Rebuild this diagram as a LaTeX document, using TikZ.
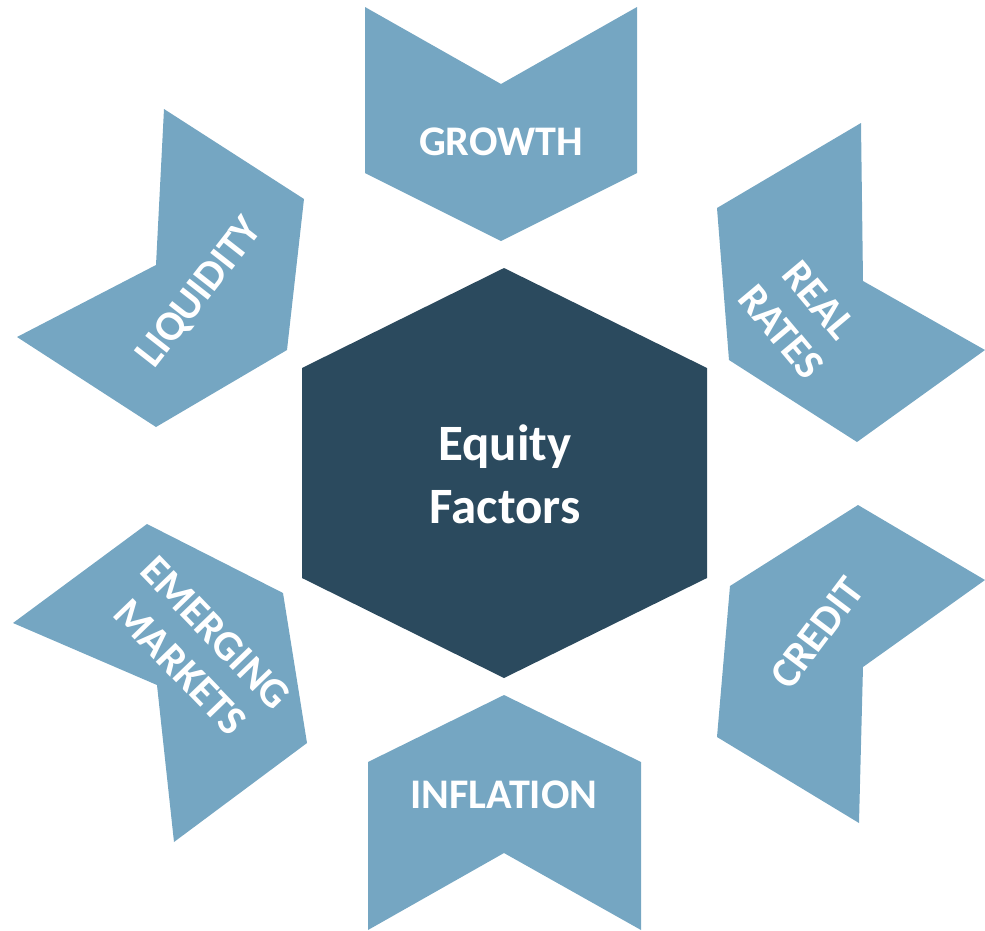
\documentclass[tikz,border=0pt]{standalone}
\usepackage{fontspec}
\setmainfont{Carlito}
\usepackage{tikz}
\definecolor{factorblue}{RGB}{117,166,194}
\definecolor{coreblue}{RGB}{43,74,94}

\begin{document}
\begin{tikzpicture}[x=0.2mm,y=-0.2mm,
  chev/.style={fill=factorblue},
  every node/.style={text=white,font=\bfseries\fontsize{24}{28}\selectfont,align=center}]
\useasboundingbox (0,0) rectangle (985,930);
\fill[coreblue] (504,268)--(707,368)--(707,578)--(504,678)--(302,578)--(302,368)--cycle;
\fill[chev] (365,7)--(501,84)--(637,7)--(637,173)--(501,241)--(365,173)--cycle;
\fill[chev] (717,208)--(861,123)--(863,281)--(985,350)--(857,442)--(729,360)--cycle;
\fill[chev] (730,586)--(858,505)--(985,580)--(863,667)--(859,823)--(717,737)--cycle;
\fill[chev] (368,762)--(504,695)--(641,762)--(641,930)--(504,853)--(368,930)--cycle;
\fill[chev] (147,524)--(283,593)--(307,743)--(174,842)--(157,685)--(13,623)--cycle;
\fill[chev] (164,109)--(304,199)--(287,350)--(156,427)--(17,337)--(156,265)--cycle;
\node[font=\bfseries\fontsize{29}{36}\selectfont] (core) at (505,474) {Equity\\Factors};
\node (growth) at (501,142) {GROWTH};
\node[rotate=-50] (rates) at (800,316) {REAL\\RATES};
\node[rotate=53] (credit) at (817,633) {CREDIT};
\node (inflation) at (504,795) {INFLATION};
\node[rotate=-46] (markets) at (198,650) {EMERGING\\MARKETS};
\node[rotate=52] (liquidity) at (200,293) {LIQUIDITY};
\end{tikzpicture}
\end{document}
